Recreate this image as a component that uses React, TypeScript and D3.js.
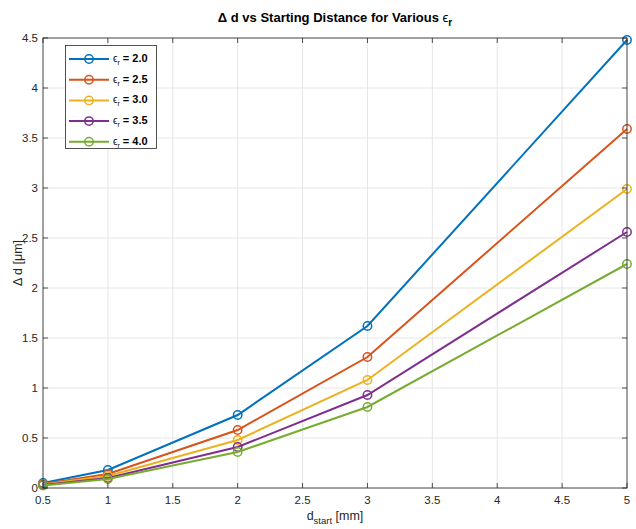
import React from 'react';
import * as d3 from 'd3';

// starting distance [mm]
const dStart = [0.5, 1, 2, 3, 5];
const epsLabels = ['2.0', '2.5', '3.0', '3.5', '4.0'];
// delta d [um] per eps_r
const eps20 = [0.05, 0.18, 0.73, 1.62, 4.48];
const eps25 = [0.04, 0.14, 0.58, 1.31, 3.59];
const eps30 = [0.035, 0.12, 0.48, 1.08, 2.99];
const eps35 = [0.03, 0.1, 0.41, 0.93, 2.56];
const eps40 = [0.025, 0.09, 0.36, 0.81, 2.24];
const xTicks = [0.5, 1, 1.5, 2, 2.5, 3, 3.5, 4, 4.5, 5];
const yTicks = [0, 0.5, 1, 1.5, 2, 2.5, 3, 3.5, 4, 4.5];
const colors = ['#0072BD', '#D95319', '#EDB120', '#7E2F8E', '#77AC30'];

const series = [eps20, eps25, eps30, eps35, eps40];

const W = 636, H = 529;
const margin = { top: 38, right: 9, bottom: 41, left: 43 };
const FONT = '"Liberation Sans", Arial, Helvetica, sans-serif';

export default function App() {
  const x = d3.scaleLinear().domain([0.5, 5]).range([margin.left, W - margin.right]);
  const y = d3.scaleLinear().domain([0, 4.5]).range([H - margin.bottom, margin.top]);
  const line = d3.line<number>()
    .x((_, i) => x(dStart[i]))
    .y((d) => y(d));
  const x0 = margin.left, x1 = W - margin.right, y0 = H - margin.bottom, y1 = margin.top;

  return (
    <svg width={W} height={H} style={{ position: 'absolute', left: 0, top: 0, background: '#fff' }}
      fontFamily={FONT}>
      <rect width={W} height={H} fill="#fff" />
      {/* grid */}
      {xTicks.map((t) => (
        <line key={'gx' + t} x1={x(t)} x2={x(t)} y1={y0} y2={y1} stroke="#e6e6e6" strokeWidth={1} />
      ))}
      {yTicks.map((t) => (
        <line key={'gy' + t} x1={x0} x2={x1} y1={y(t)} y2={y(t)} stroke="#e6e6e6" strokeWidth={1} />
      ))}
      {/* series */}
      {series.map((s, k) => (
        <g key={'s' + k}>
          <path d={line(s) || ''} fill="none" stroke={colors[k]} strokeWidth={2} />
          {s.map((v, i) => (
            <circle key={i} cx={x(dStart[i])} cy={y(v)} r={4.2} fill="none" stroke={colors[k]} strokeWidth={1.5} />
          ))}
        </g>
      ))}
      {/* box */}
      <rect x={x0} y={y1} width={x1 - x0} height={y0 - y1} fill="none" stroke="#262626" strokeWidth={0.8} />
      {/* ticks */}
      {xTicks.map((t) => (
        <g key={'tx' + t}>
          <line x1={x(t)} x2={x(t)} y1={y0} y2={y0 - 5} stroke="#262626" strokeWidth={0.8} />
          <line x1={x(t)} x2={x(t)} y1={y1} y2={y1 + 5} stroke="#262626" strokeWidth={0.8} />
          <text x={x(t)} y={y0 + 16} textAnchor="middle" fontSize={11.5} fill="#262626">{t}</text>
        </g>
      ))}
      {yTicks.map((t) => (
        <g key={'ty' + t}>
          <line x1={x0} x2={x0 + 5} y1={y(t)} y2={y(t)} stroke="#262626" strokeWidth={0.8} />
          <line x1={x1} x2={x1 - 5} y1={y(t)} y2={y(t)} stroke="#262626" strokeWidth={0.8} />
          <text x={x0 - 5} y={y(t) + 4} textAnchor="end" fontSize={11.5} fill="#262626">{t}</text>
        </g>
      ))}
      {/* title */}
      <text x={(x0 + x1) / 2} y={22} textAnchor="middle" fontSize={13} fontWeight="bold" fill="#000">
        Δ d vs Starting Distance for Various <tspan fontWeight="normal">ϵ</tspan><tspan dy={4} fontSize={10}>r</tspan>
      </text>
      {/* axis labels */}
      <text x={(x0 + x1) / 2} y={520} textAnchor="middle" fontSize={12.5} fill="#262626">
        d<tspan dy={4} fontSize={9.5}>start</tspan><tspan dy={-4}> [mm]</tspan>
      </text>
      <text transform={`translate(22,${(y0 + y1) / 2}) rotate(-90)`} textAnchor="middle" fontSize={12.5} fill="#262626">
        Δ d [μm]
      </text>
      {/* legend */}
      <rect x={65.5} y={45.5} width={91} height={103} fill="#fff" stroke="#262626" strokeWidth={0.8} />
      {epsLabels.map((lab, k) => {
        const ly = 59 + k * 20.7;
        return (
          <g key={'l' + k}>
            <line x1={69} x2={109} y1={ly} y2={ly} stroke={colors[k]} strokeWidth={2} />
            <circle cx={89} cy={ly} r={4.2} fill="none" stroke={colors[k]} strokeWidth={1.5} />
            <text x={113} y={ly + 3} fontSize={10} fill="#000">
              ϵ<tspan dy={3} fontSize={7}>r</tspan><tspan dy={-3} fontSize={11} fontWeight="bold"> = {lab}</tspan>
            </text>
          </g>
        );
      })}
    </svg>
  );
}
